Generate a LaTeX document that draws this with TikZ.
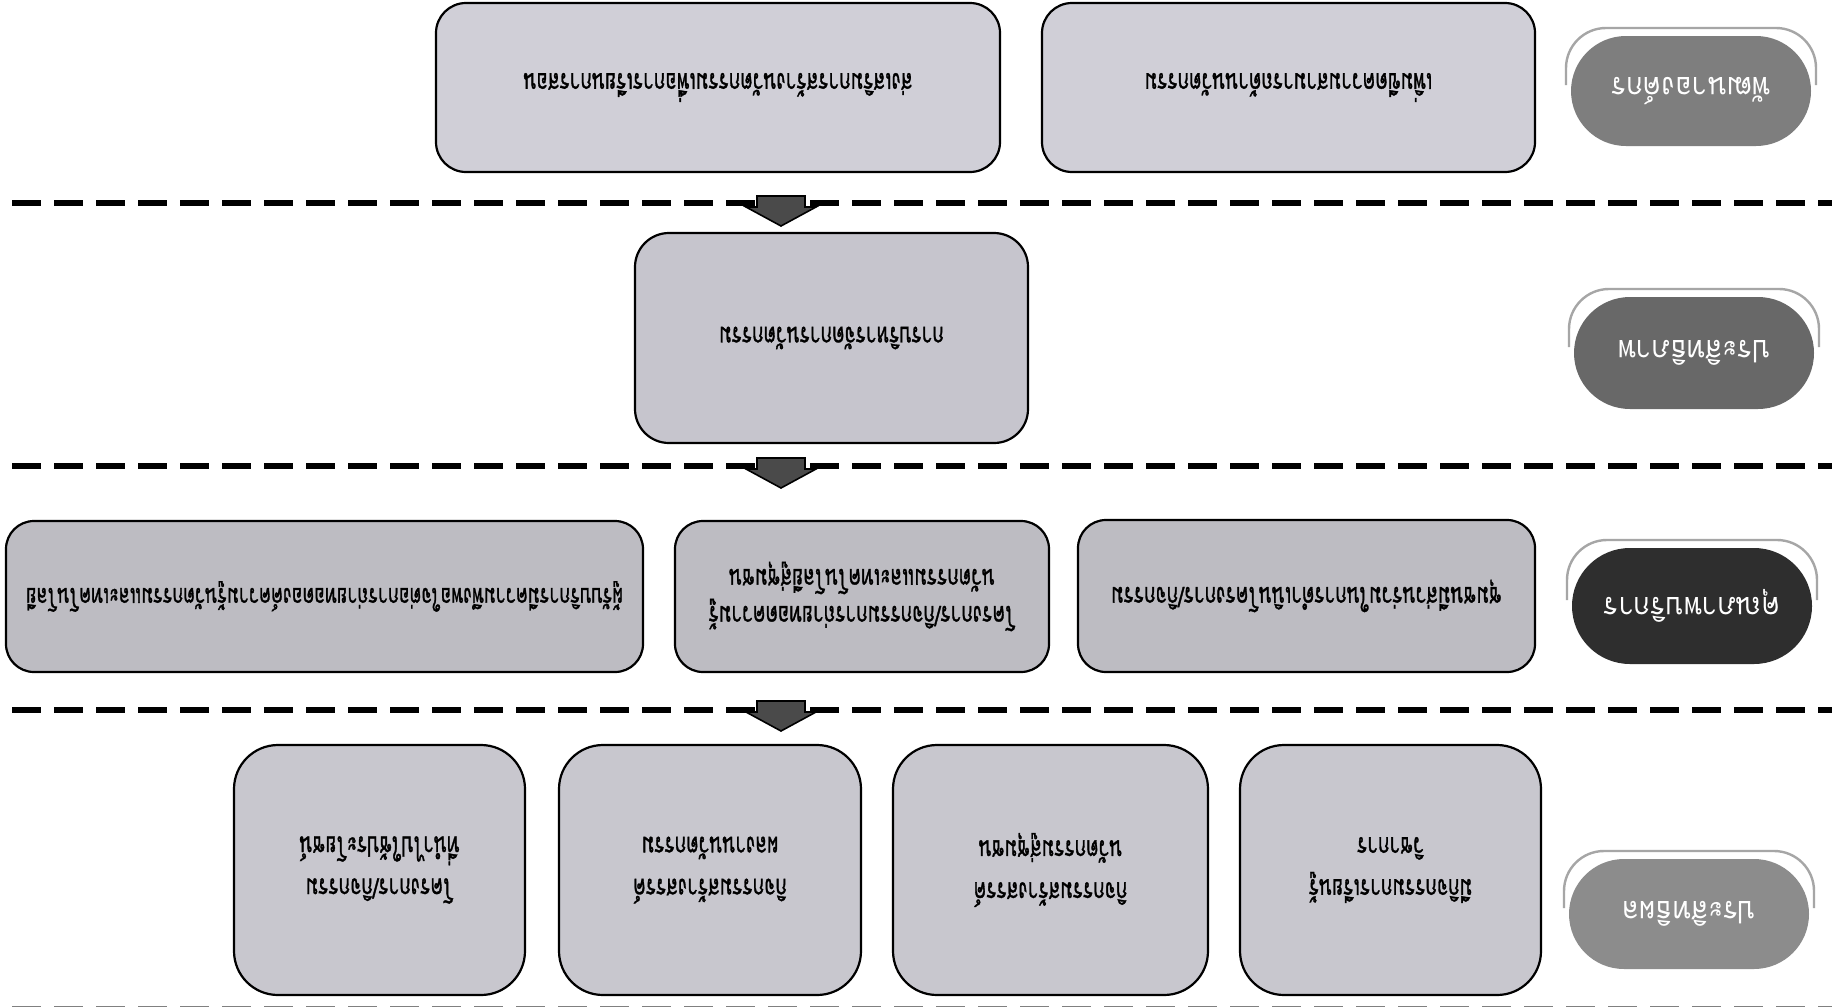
\documentclass[tikz,border=0pt]{standalone}
\usepackage{fontspec}
\newfontfamily\thaifont[Script=Thai,FakeStretch=0.68,FakeBold=1.1]{Loma}
\newfontfamily\thaipill[Script=Thai,FakeStretch=0.9]{Loma}
\usetikzlibrary{shapes.misc,calc}
\definecolor{boxtop}{HTML}{D0CFD7}
\definecolor{boxmid}{HTML}{C6C5CD}
\definecolor{boxrow}{HTML}{BDBCC2}
\definecolor{boxbot}{HTML}{C8C7CE}
\definecolor{pillA}{HTML}{7E7E7E}
\definecolor{pillB}{HTML}{686868}
\definecolor{pillC}{HTML}{2E2E2E}
\definecolor{pillD}{HTML}{8C8C8C}
\definecolor{arrowfill}{HTML}{4A4A4A}
\begin{document}
\begin{tikzpicture}[x=0.5pt,y=-0.5pt,
  box/.style={draw=black, line width=1.1pt, fill=boxmid, inner sep=0pt, align=center, rotate=180,
    font=\thaifont\fontsize{14}{18.5}\selectfont},
  pill/.style={rounded rectangle, fill=#1, draw=none, minimum width=120pt, minimum height=56pt,
    text=white, inner sep=0pt, rotate=180, font=\thaipill\fontsize{15.5}{17}\selectfont},
  halo/.style={draw=gray!70, line width=1.2pt, rounded corners=20pt},
  sep/.style={line width=3pt, dash pattern=on 14.5pt off 6.5pt, dash phase=-6pt},
  blockarrow/.style={fill=arrowfill, draw=black, line width=0.8pt, line join=miter}
]
\useasboundingbox (0,0) rectangle (1832,1007);
\fill[white] (0,0) rectangle (1832,1007);

% separators
\draw[sep] (0,203) coordinate (s1a) -- (1832,203) coordinate (s1b);
\draw[sep] (0,466) coordinate (s2a) -- (1832,466) coordinate (s2b);
\draw[sep] (0,710) coordinate (s3a) -- (1832,710) coordinate (s3b);
\draw[sep, draw=gray] (0,1009) coordinate (s4a) -- (1832,1009) coordinate (s4b);

% level labels (pills)
\newcommand{\pillhalo}[3]{% cx, cy, half height
  \draw[halo] (#1-125,#2-6) -- (#1-125,#2-#3-8) -- (#1+125,#2-#3-8) -- (#1+125,#2-6);}
\node[pill=pillA, minimum height=55pt] (p1) at (1691,91) {พัฒนาองค์กร};
\node[pill=pillB] (p2) at (1694,353) {ประสิทธิภาพ};
\node[pill=pillC, minimum height=58pt] (p3) at (1692,606) {คุณภาพบริการ};
\node[pill=pillD, minimum height=55pt] (p4) at (1689,914) {ประสิทธิผล};
\pillhalo{1691}{91}{55}
\pillhalo{1694}{353}{56}
\pillhalo{1692}{606}{58}
\pillhalo{1689}{914}{55}

% row 1 (top)
\node[box, fill=boxtop, rounded corners=15pt, minimum width=282pt, minimum height=84.5pt] (a1) at (718,87.5)
  {ส่งเสริมการสร้างนวัตกรรมเพื่อการเรียนการสอน};
\node[box, fill=boxtop, rounded corners=15pt, minimum width=246.5pt, minimum height=84.5pt] (a2) at (1288.5,87.5)
  {เพิ่มขีดความสามารถด้านนวัตกรรม};

% row 2
\node[box, fill=boxmid, rounded corners=17pt, minimum width=196.5pt, minimum height=105pt] (b1) at (831.5,338)
  {การบริหารจัดการนวัตกรรม};

% row 3
\node[box, fill=boxrow, rounded corners=14pt, minimum width=318.5pt, minimum height=75.5pt,
      font=\thaifont\fontsize{13.2}{18}\selectfont] (c1) at (324.5,596.5)
  {ผู้รับบริการมีความพึงพอใจต่อการถ่ายทอดองค์ความรู้นวัตกรรมและเทคโนโลยี};
\node[box, fill=boxrow, rounded corners=14pt, minimum width=187pt, minimum height=75.5pt] (c2) at (862,596.5)
  {โครงการ/กิจกรรมการถ่ายทอดความรู้\\นวัตกรรมและเทคโนโลยีสู่ชุมชน};
\node[box, fill=boxrow, rounded corners=14pt, minimum width=228.5pt, minimum height=76pt] (c3) at (1306.5,596)
  {ชุมชนมีส่วนร่วมในการดำเนินโครงการ/กิจกรรม};

% row 4
\tikzset{rowfour/.style={box, fill=boxbot, rounded corners=22pt, minimum height=125pt,
  font=\thaifont\fontsize{14}{21}\selectfont}}
\node[rowfour, minimum width=145.5pt] (d1) at (379.5,870)
  {โครงการ/กิจกรรม\\ที่นำไปใช้ประโยชน์};
\node[rowfour, minimum width=151pt] (d2) at (710,870)
  {กิจกรรมสร้างสรรค์\\ผลงานนวัตกรรม};
\node[rowfour, minimum width=157.5pt] (d3) at (1050.5,870)
  {กิจกรรมสร้างสรรค์\\นวัตกรรมสู่ชุมชน};
\node[rowfour, minimum width=150.5pt] (d4) at (1390.5,870)
  {มีกิจกรรมการเรียนรู้\\วิชาการ};

% block arrows between levels
\newcommand{\blockarr}[2]{% cx, top y
  \draw[blockarrow] (#1-24,#2) -- (#1+24,#2) -- (#1+24,#2+11) -- (#1+35,#2+11) -- (#1,#2+30)
    -- (#1-35,#2+11) -- (#1-24,#2+11) -- cycle;}
\blockarr{781}{196}
\blockarr{781}{458}
\blockarr{781}{701}
\end{tikzpicture}
\end{document}
